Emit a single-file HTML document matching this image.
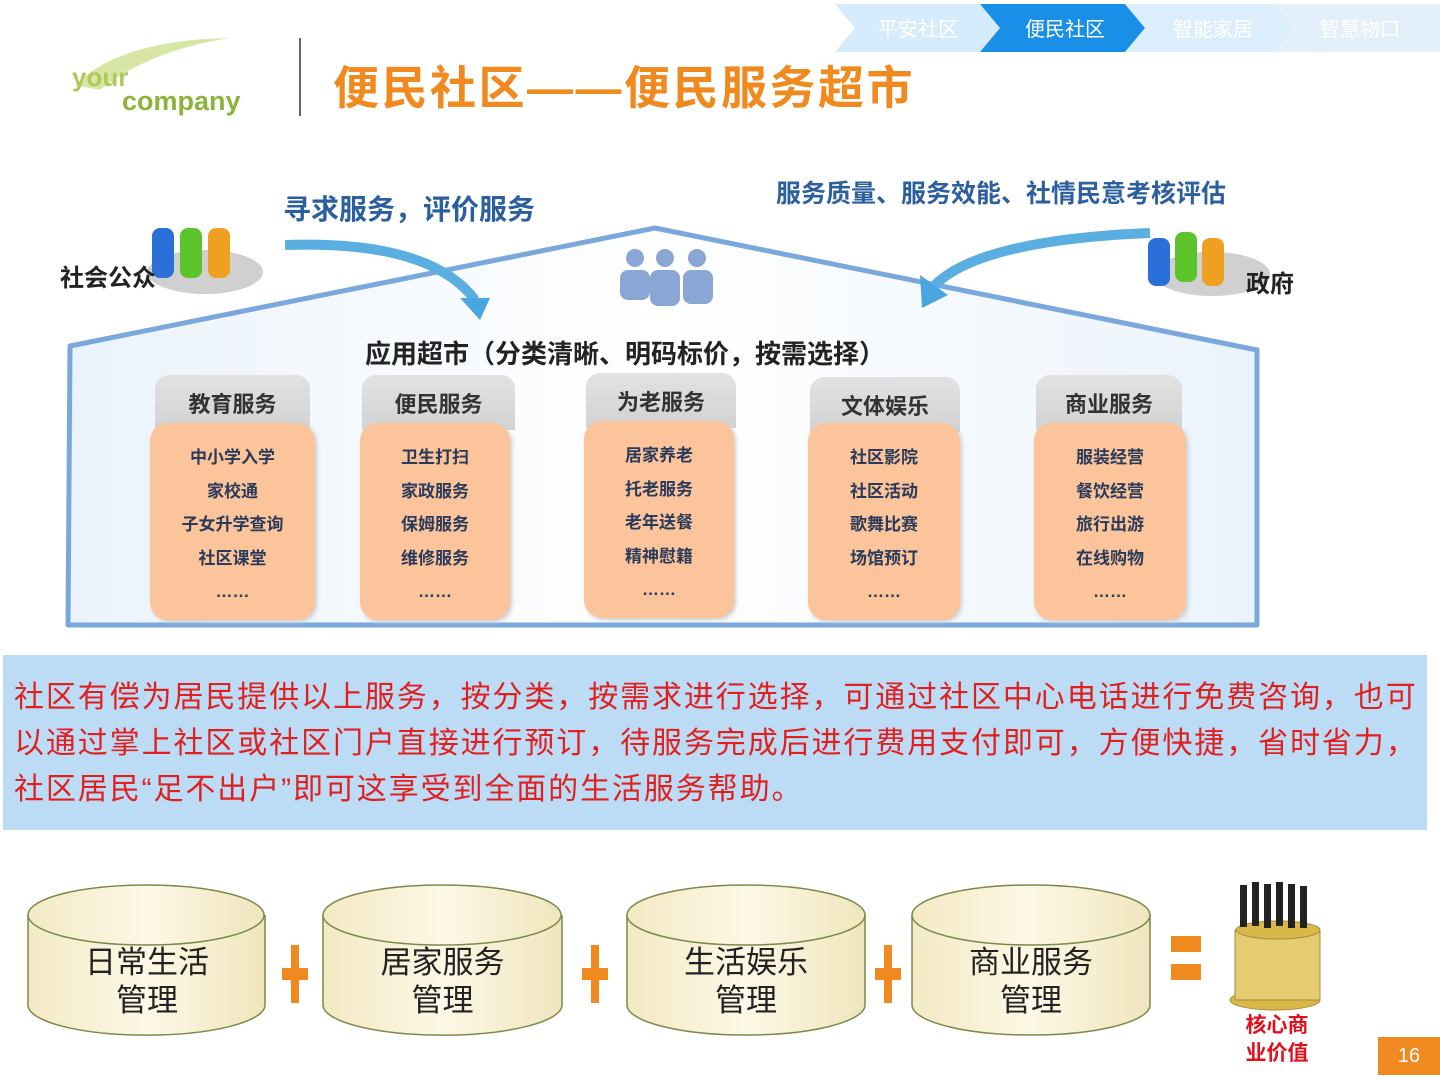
<!DOCTYPE html>
<html><head><meta charset="utf-8"><style>
*{margin:0;padding:0;box-sizing:border-box}
body{width:1440px;height:1080px;position:relative;overflow:hidden;background:#fff;font-family:"Liberation Sans","Noto Sans CJK SC",sans-serif}
.a{position:absolute}
.col .h{position:absolute;background:linear-gradient(#e2e2e2,#d2d2d2);border-radius:14px 14px 0 0;font-weight:bold;font-size:22px;text-align:center;color:#333;padding-top:12px}
.col .b{position:absolute;background:#fbc49a;border-radius:18px;font-weight:bold;font-size:17px;color:#2a3a5a;text-align:center;line-height:33.5px;padding-top:18px;box-shadow:2px 2px 4px #ccc}
</style></head><body>
<svg class="a" style="left:830px;top:2px" width="610" height="52">
<polygon points="5,2 150,2 170,26 150,50 5,50 25,26" fill="#d6ebfb"/>
<polygon points="150,2 295,2 315,26 295,50 150,50 170,26" fill="#1a8fe8"/>
<polygon points="295,2 445,2 465,26 445,50 295,50 315,26" fill="#dcedfb"/>
<polygon points="445,2 610,2 610,50 445,50 465,26" fill="#e3f0fb"/>
<text x="88" y="34" font-size="20" fill="#fff" text-anchor="middle" font-family="Liberation Sans,Noto Sans CJK SC,sans-serif">平安社区</text>
<text x="235" y="34" font-size="20" fill="#fff" text-anchor="middle" font-family="Liberation Sans,Noto Sans CJK SC,sans-serif">便民社区</text>
<text x="383" y="34" font-size="20" fill="#fff" text-anchor="middle" font-family="Liberation Sans,Noto Sans CJK SC,sans-serif">智能家居</text>
<text x="530" y="34" font-size="20" fill="#fff" text-anchor="middle" font-family="Liberation Sans,Noto Sans CJK SC,sans-serif">智慧物口</text>
</svg>
<svg class="a" style="left:60px;top:30px" width="200" height="100">
<path d="M15,55 Q60,10 170,8 Q90,20 40,60" fill="#d7e6a5"/>
<text x="12" y="56" font-size="26" font-weight="bold" fill="#b4c85a" font-family="Liberation Sans,sans-serif">your</text>
<text x="62" y="80" font-size="27" font-weight="bold" fill="#8cb43c" font-family="Liberation Sans,sans-serif">company</text>
</svg>
<div class="a" style="left:299px;top:38px;width:2px;height:78px;background:#666"></div>
<div class="a" style="left:333px;top:52px;font-size:46px;font-weight:bold;color:#f08a1e;letter-spacing:2.5px">便民社区——便民服务超市</div>
<svg class="a" style="left:0;top:170px" width="1440" height="470">
<defs><linearGradient id="g" x1="0" x2="1"><stop offset="0" stop-color="#eaf3fb"/><stop offset="0.5" stop-color="#fff"/><stop offset="1" stop-color="#eaf3fb"/></linearGradient></defs>
<path d="M70,176 L655,58 L1257,180 L1257,455 L68,455 Z" fill="url(#g)" stroke="#7aa7dc" stroke-width="5" stroke-linejoin="round"/>
<path d="M285,75 Q430,70 475,130" fill="none" stroke="#5aaee0" stroke-width="10"/>
<polygon points="460,128 490,128 480,150" fill="#4aa6e0"/>
<path d="M1150,63 Q980,70 935,115" fill="none" stroke="#5aaee0" stroke-width="10"/>
<polygon points="920,105 948,125 922,138" fill="#4aa6e0"/>
<ellipse cx="205" cy="102" rx="58" ry="22" fill="#d0d0d0"/>
<rect x="152" y="58" width="22" height="50" rx="8" fill="#2a70d8"/><rect x="180" y="58" width="22" height="50" rx="8" fill="#5cc42a"/><rect x="208" y="58" width="22" height="50" rx="8" fill="#f0a020"/>
<ellipse cx="1212" cy="104" rx="58" ry="22" fill="#d0d0d0"/>
<rect x="1148" y="68" width="22" height="48" rx="8" fill="#2a70d8"/><rect x="1175" y="62" width="22" height="50" rx="8" fill="#5cc42a"/><rect x="1202" y="68" width="22" height="48" rx="8" fill="#f0a020"/>
<g fill="#8aa6d4"><circle cx="635" cy="88" r="9"/><circle cx="665" cy="88" r="9"/><circle cx="697" cy="88" r="9"/><rect x="620" y="100" width="30" height="30" rx="8"/><rect x="650" y="100" width="30" height="36" rx="8"/><rect x="683" y="100" width="30" height="34" rx="8"/></g>
</svg>
<div class="a" style="left:283px;top:188px;font-size:28px;font-weight:bold;color:#2c5f9e">寻求服务，评价服务</div>
<div class="a" style="left:776px;top:174px;font-size:25px;font-weight:bold;color:#2c5f9e">服务质量、服务效能、社情民意考核评估</div>
<div class="a" style="left:60px;top:258px;font-size:24px;font-weight:bold;color:#222">社会公众</div>
<div class="a" style="left:1246px;top:264px;font-size:24px;font-weight:bold;color:#222">政府</div>
<div class="a" style="left:365px;top:334px;font-size:26px;font-weight:bold;color:#222">应用超市（分类清晰、明码标价，按需选择）</div>
<div class="col">
<div class="h" style="left:155px;top:375px;width:155px;height:55px">教育服务</div>
<div class="b" style="left:150px;top:423px;width:165px;height:197px">中小学入学<br>家校通<br>子女升学查询<br>社区课堂<br>……</div>
<div class="h" style="left:362px;top:375px;width:153px;height:55px">便民服务</div>
<div class="b" style="left:360px;top:423px;width:150px;height:197px">卫生打扫<br>家政服务<br>保姆服务<br>维修服务<br>……</div>
<div class="h" style="left:586px;top:373px;width:150px;height:55px">为老服务</div>
<div class="b" style="left:584px;top:421px;width:150px;height:197px">居家养老<br>托老服务<br>老年送餐<br>精神慰籍<br>……</div>
<div class="h" style="left:810px;top:377px;width:150px;height:55px">文体娱乐</div>
<div class="b" style="left:808px;top:423px;width:152px;height:197px">社区影院<br>社区活动<br>歌舞比赛<br>场馆预订<br>……</div>
<div class="h" style="left:1036px;top:375px;width:146px;height:55px">商业服务</div>
<div class="b" style="left:1034px;top:423px;width:152px;height:197px">服装经营<br>餐饮经营<br>旅行出游<br>在线购物<br>……</div>
</div>
<div class="a" style="left:3px;top:655px;width:1424px;height:175px;background:#bcdcf6;padding:20px 0 0 11px;font-size:30px;line-height:46px;color:#e0201e;letter-spacing:1.9px;white-space:nowrap">社区有偿为居民提供以上服务，按分类，按需求进行选择，可通过社区中心电话进行免费咨询，也可<br>以通过掌上社区或社区门户直接进行预订，待服务完成后进行费用支付即可，方便快捷，省时省力，<br>社区居民“足不出户”即可这享受到全面的生活服务帮助。</div>
<svg class="a" style="left:0;top:870px" width="1440" height="210">
<defs><linearGradient id="c" x1="0" x2="1"><stop offset="0" stop-color="#f3e9c4"/><stop offset=".5" stop-color="#fdf8e6"/><stop offset="1" stop-color="#f0e5bd"/></linearGradient></defs>
<g stroke="#7a8a4a" stroke-width="1.5" fill="url(#c)">
<path d="M28,45 L28,135 A118,30 0 0 0 265,135 L265,45"/><ellipse cx="146" cy="45" rx="118" ry="30"/>
<path d="M323,45 L323,135 A119,30 0 0 0 562,135 L562,45"/><ellipse cx="442" cy="45" rx="119" ry="30"/>
<path d="M627,45 L627,135 A119,30 0 0 0 865,135 L865,45"/><ellipse cx="746" cy="45" rx="119" ry="30"/>
<path d="M912,45 L912,135 A119,30 0 0 0 1150,135 L1150,45"/><ellipse cx="1031" cy="45" rx="119" ry="30"/>
</g>
<g fill="#f08a1e"><rect x="291" y="75" width="8" height="58"/><rect x="282" y="98" width="26" height="12"/>
<rect x="591" y="75" width="8" height="58"/><rect x="582" y="98" width="26" height="12"/>
<rect x="884" y="75" width="8" height="58"/><rect x="875" y="98" width="26" height="12"/>
<rect x="1171" y="66" width="30" height="16"/><rect x="1171" y="94" width="30" height="16"/></g>
<g fill="#d9b84a" stroke="#a8893a"><ellipse cx="1275" cy="130" rx="45" ry="10"/><rect x="1235" y="60" width="85" height="70" fill="#e6cc70"/><ellipse cx="1278" cy="60" rx="42" ry="9"/></g>
<g fill="#222"><rect x="1240" y="15" width="7" height="42"/><rect x="1252" y="12" width="7" height="44"/><rect x="1264" y="14" width="7" height="44"/><rect x="1276" y="12" width="7" height="44"/><rect x="1288" y="14" width="7" height="44"/><rect x="1300" y="16" width="7" height="42"/></g>
</svg>
<div class="a" style="left:28px;top:944px;width:238px;text-align:center;font-size:31px;line-height:38px;color:#222">日常生活<br>管理</div>
<div class="a" style="left:323px;top:944px;width:239px;text-align:center;font-size:31px;line-height:38px;color:#222">居家服务<br>管理</div>
<div class="a" style="left:627px;top:944px;width:238px;text-align:center;font-size:31px;line-height:38px;color:#222">生活娱乐<br>管理</div>
<div class="a" style="left:912px;top:944px;width:238px;text-align:center;font-size:31px;line-height:38px;color:#222">商业服务<br>管理</div>
<div class="a" style="left:1238px;top:1012px;width:78px;text-align:center;font-size:21px;font-weight:bold;line-height:28px;color:#e0101e">核心商<br>业价值</div>
<div class="a" style="left:1378px;top:1037px;width:62px;height:38px;background:#f08a1e;color:#fff;font-size:20px;text-align:center;line-height:38px">16</div>
</body></html>
